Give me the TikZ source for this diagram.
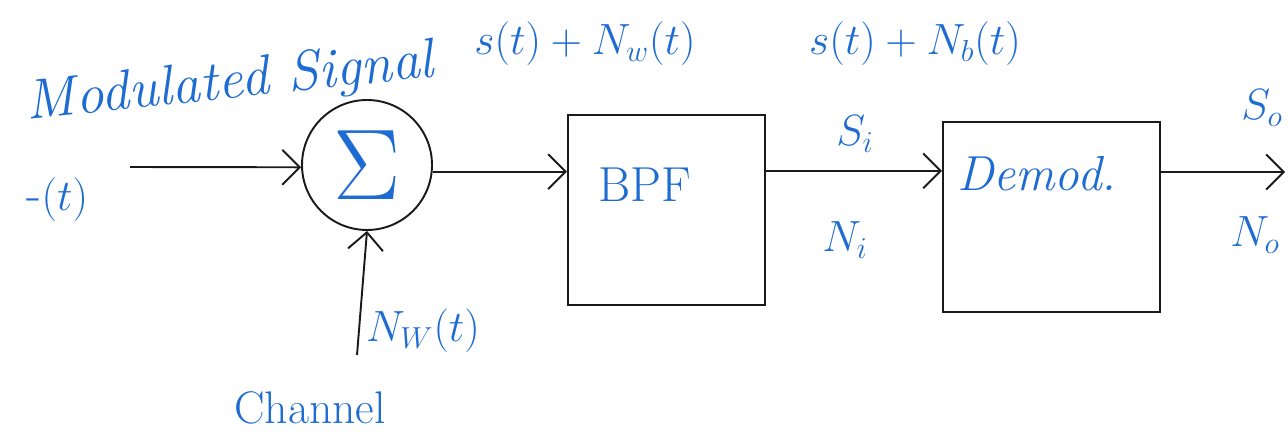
\documentclass[tikz,border=0pt]{standalone}
\usepackage{tikz}
\usetikzlibrary{positioning,arrows.meta,calc}
\definecolor{inkblue}{HTML}{1E6CD2}
\definecolor{inkblack}{HTML}{1A1A1A}

\tikzset{
  wire/.style={draw=inkblack, line width=1.1pt},
  sigarrow/.style={wire, -{Straight Barb[length=3.5mm,width=7mm,line width=1.1pt]}},
  blockbox/.style={wire, rectangle, minimum width=3.94cm, minimum height=3.8cm},
  hand/.style={text=inkblue, font=\itshape\fontsize{22}{26}\selectfont, inner sep=1pt},
  handmath/.style={text=inkblue, font=\fontsize{23}{27}\selectfont, inner sep=1pt}
}

\begin{document}
\begin{tikzpicture}[x=1cm,y=1cm]
\useasboundingbox (0,0) rectangle (25.76,8.78);
% blocks
\node[wire, circle, minimum size=2.6cm] (sum) at (7.34,5.48) {};
\node[handmath, scale=2.3] (sigma) at (sum) {$\Sigma$};
\node[blockbox] (bpf) at (13.33,4.58) {};
\node[blockbox, minimum width=4.34cm] (demod) at (21.03,4.44) {};
\node[hand, font=\fontsize{28}{32}\selectfont] (bpftext) at (12.9,5.08) {BPF};
\node[hand, font=\itshape\fontsize{28}{32}\selectfont, anchor=west] (demodtext) at (19.1,5.3) {Demod.};

% free ends
\coordinate (inp) at (2.6,5.44);
\coordinate (noise) at (7.14,1.68);
\coordinate (outp) at (25.7,5.34);
\coordinate (bpfin) at ($(bpf.north west)!0.3!(bpf.south west)$);
\coordinate (demodin) at ($(demod.north west)!0.26!(demod.south west)$);

% connectors
\draw[sigarrow] (inp) -- (sum.182);
\draw[sigarrow] (noise) -- (sum.south);
\draw[sigarrow] (sum.east |- bpfin) -- (bpfin);
\draw[sigarrow] (bpf.east |- demodin) -- (demodin);
\draw[sigarrow] (demod.east |- outp) -- (outp);

% labels
\node[hand, font=\itshape\fontsize{32}{36}\selectfont, rotate=6] (modsig) at (4.6,7.1) {Modulated Signal};
\node[handmath, font=\fontsize{28}{32}\selectfont] (inlabel) at (1.15,4.78) {$\mbox{-}(t)$};
\node[handmath] (sumout) at (11.7,7.9) {$s(t)+N_w(t)$};
\node[handmath] (bpfout) at (18.3,7.9) {$s(t)+N_b(t)$};
\node[handmath, font=\fontsize{26}{30}\selectfont] (si) at (17.1,6.1) {$S_i$};
\node[handmath, font=\fontsize{26}{30}\selectfont] (ni) at (16.9,3.98) {$N_i$};
\node[handmath] (so) at (25.24,6.62) {$S_o$};
\node[handmath] (no) at (25.1,4.08) {$N_o$};
\node[handmath, font=\fontsize{26}{30}\selectfont, right=4pt of noise, anchor=south west] (nw) {$N_W(t)$};
\node[hand, font=\fontsize{26}{30}\selectfont] (channel) at (6.2,0.62) {Channel};
\end{tikzpicture}
\end{document}
